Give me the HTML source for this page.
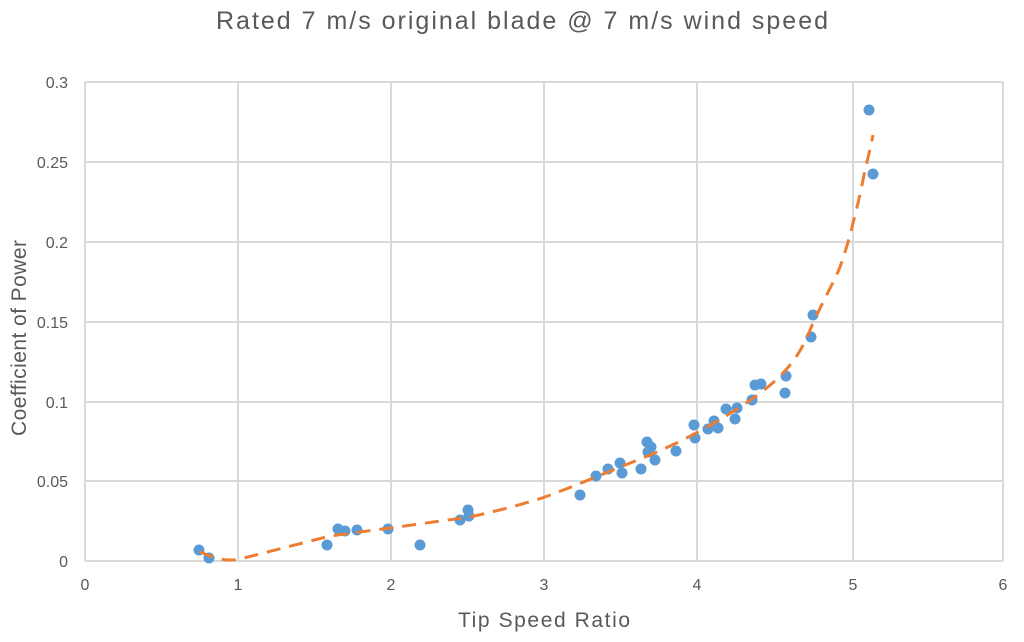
<!DOCTYPE html>
<html><head><meta charset="utf-8"><style>body{margin:0;background:#fff}svg{display:block}</style></head><body>
<svg width="1024" height="642" viewBox="0 0 1024 642" xmlns="http://www.w3.org/2000/svg" font-family="Liberation Sans, sans-serif">
<text x="522" y="29" font-size="25" fill="#595959" text-anchor="middle" textLength="612" lengthAdjust="spacing">Rated 7 m/s original blade @ 7 m/s wind speed</text>
<g stroke="#d9d9d9" stroke-width="2">
<line x1="85" y1="82" x2="1003" y2="82"/><line x1="85" y1="162" x2="1003" y2="162"/><line x1="85" y1="242" x2="1003" y2="242"/><line x1="85" y1="322" x2="1003" y2="322"/><line x1="85" y1="402" x2="1003" y2="402"/><line x1="85" y1="481" x2="1003" y2="481"/>
<line x1="85" y1="82" x2="85" y2="561"/><line x1="238" y1="82" x2="238" y2="561"/><line x1="391" y1="82" x2="391" y2="561"/><line x1="544" y1="82" x2="544" y2="561"/><line x1="697" y1="82" x2="697" y2="561"/><line x1="853" y1="82" x2="853" y2="561"/><line x1="1003" y1="82" x2="1003" y2="561"/>
<line x1="85" y1="561" x2="1003" y2="561"/>
</g>
<g font-size="16" fill="#595959" text-anchor="end">
<text x="68" y="88">0.3</text><text x="68" y="168">0.25</text><text x="68" y="248">0.2</text><text x="68" y="328">0.15</text><text x="68" y="408">0.1</text><text x="68" y="487">0.05</text><text x="68" y="567">0</text>
</g>
<g font-size="16" fill="#595959" text-anchor="middle">
<text x="85" y="590">0</text><text x="238" y="590">1</text><text x="391" y="590">2</text><text x="544" y="590">3</text><text x="697" y="590">4</text><text x="853" y="590">5</text><text x="1003" y="590">6</text>
</g>
<text x="544" y="627" font-size="21" fill="#595959" text-anchor="middle" textLength="172" lengthAdjust="spacing">Tip Speed  Ratio</text>
<text transform="translate(26,338) rotate(-90)" font-size="21" fill="#595959" text-anchor="middle" textLength="196" lengthAdjust="spacing">Coefficient of Power</text>
<g fill="#5b9bd5">
<circle cx="199" cy="550" r="5.5"/><circle cx="209" cy="558" r="5.5"/><circle cx="327" cy="545" r="5.5"/><circle cx="338" cy="529" r="5.5"/><circle cx="345" cy="531" r="5.5"/><circle cx="357" cy="530" r="5.5"/><circle cx="388" cy="529" r="5.5"/><circle cx="420" cy="545" r="5.5"/><circle cx="460" cy="520" r="5.5"/><circle cx="468" cy="510" r="5.5"/><circle cx="469" cy="516" r="5.5"/><circle cx="580" cy="495" r="5.5"/><circle cx="596" cy="476" r="5.5"/><circle cx="608" cy="469" r="5.5"/><circle cx="620" cy="463" r="5.5"/><circle cx="622" cy="473" r="5.5"/><circle cx="641" cy="469" r="5.5"/><circle cx="647" cy="442" r="5.5"/><circle cx="648" cy="452" r="5.5"/><circle cx="651" cy="447" r="5.5"/><circle cx="655" cy="460" r="5.5"/><circle cx="676" cy="451" r="5.5"/><circle cx="694" cy="425" r="5.5"/><circle cx="695" cy="438" r="5.5"/><circle cx="708" cy="429" r="5.5"/><circle cx="714" cy="421" r="5.5"/><circle cx="718" cy="428" r="5.5"/><circle cx="726" cy="409" r="5.5"/><circle cx="735" cy="419" r="5.5"/><circle cx="737" cy="408" r="5.5"/><circle cx="752" cy="400" r="5.5"/><circle cx="755" cy="385" r="5.5"/><circle cx="761" cy="384" r="5.5"/><circle cx="785" cy="393" r="5.5"/><circle cx="786" cy="376" r="5.5"/><circle cx="811" cy="337" r="5.5"/><circle cx="813" cy="315" r="5.5"/><circle cx="869" cy="110" r="5.5"/><circle cx="873" cy="174" r="5.5"/>
</g>
<path d="M200,552 C215,558 225,562 240,559 L330,536 L390,528 L470,517 C510,508 530,502 545,497 C580,484 600,475 650,455 C690,438 720,420 740,407 C760,394 775,382 783,373 C800,355 806,340 813,323 C825,297 835,280 840,267 C846,250 850,236 853,223 C857,208 860,195 863,180 C866,165 869,155 873,135" fill="none" stroke="#ed7d31" stroke-width="3" stroke-dasharray="14,9"/>
</svg>
</body></html>
